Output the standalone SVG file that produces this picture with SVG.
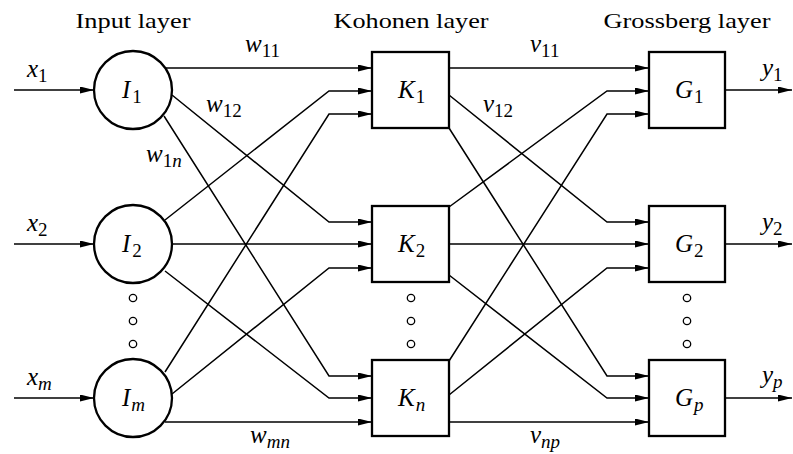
<svg xmlns="http://www.w3.org/2000/svg" width="793" height="454" viewBox="0 0 793 454">
<style>
.t{font-family:"Liberation Serif","Times New Roman",serif;font-size:22px}
.l{font-family:"Liberation Serif","Times New Roman",serif;font-size:25px;font-style:italic}
.s{font-size:19px;font-style:normal}
.si{font-size:19px;font-style:italic}
.node{fill:#fff;stroke:#000;stroke-width:2.3}
.c{fill:none;stroke:#000;stroke-width:1.5;marker-end:url(#a)}
.dot{fill:#fff;stroke:#000;stroke-width:1.3}
</style>
<defs>
<marker id="a" markerWidth="14" markerHeight="7" refX="14" refY="3.5" orient="auto" markerUnits="userSpaceOnUse"><path d="M0,0 L14,3.5 L0,7 z" fill="#000"/></marker>
</defs>
<rect width="793" height="454" fill="#fff"/>
<g id="titles">
<text class="t" x="133" y="28" text-anchor="middle" textLength="115" lengthAdjust="spacingAndGlyphs">Input layer</text>
<text class="t" x="411" y="28" text-anchor="middle" textLength="155" lengthAdjust="spacingAndGlyphs">Kohonen layer</text>
<text class="t" x="687" y="28" text-anchor="middle" textLength="167" lengthAdjust="spacingAndGlyphs">Grossberg layer</text>
</g>
<g id="connectors">
<path class="c" d="M14,90 H94"/>
<path class="c" d="M14,244 H94"/>
<path class="c" d="M14,398 H94"/>
<path class="c" d="M165,68 H372"/>
<path class="c" d="M172,95 L329,222 H372"/>
<path class="c" d="M164,116 L329,376 H372"/>
<path class="c" d="M165,220 L329,91 H372"/>
<path class="c" d="M172,244 H372"/>
<path class="c" d="M165,271 L329,398 H372"/>
<path class="c" d="M165,372 L329,114 H372"/>
<path class="c" d="M172,394 L329,268 H372"/>
<path class="c" d="M165,422 H372"/>
<path class="c" d="M449,68 H649"/>
<path class="c" d="M449,95 L607,222 H649"/>
<path class="c" d="M449,128 L607,376 H649"/>
<path class="c" d="M449,207 L607,91 H649"/>
<path class="c" d="M449,244 H649"/>
<path class="c" d="M449,275 L607,398 H649"/>
<path class="c" d="M449,361 L607,114 H649"/>
<path class="c" d="M449,395 L607,268 H649"/>
<path class="c" d="M449,422 H649"/>
<path class="c" d="M725,90 H792"/>
<path class="c" d="M725,244 H792"/>
<path class="c" d="M725,398 H792"/>
</g>
<g id="I1"><circle class="node" cx="133" cy="90" r="39"/><text class="l" x="122" y="97.5">I<tspan class="s" dx="2" dy="5.5">1</tspan></text></g>
<g id="I2"><circle class="node" cx="133" cy="244" r="39"/><text class="l" x="122" y="251.5">I<tspan class="s" dx="2" dy="5.5">2</tspan></text></g>
<g id="Im"><circle class="node" cx="133" cy="398" r="39"/><text class="l" x="122" y="405.5">I<tspan class="si" dx="1" dy="5.5">m</tspan></text></g>
<g id="K1"><rect class="node" x="372" y="52" width="77" height="76"/><text class="l" x="398" y="97.5">K<tspan class="s" dx="1" dy="5.5">1</tspan></text></g>
<g id="K2"><rect class="node" x="372" y="206" width="77" height="76"/><text class="l" x="398" y="251.5">K<tspan class="s" dx="1" dy="5.5">2</tspan></text></g>
<g id="Kn"><rect class="node" x="372" y="360" width="77" height="76"/><text class="l" x="398" y="405.5">K<tspan class="si" dx="1" dy="5.5">n</tspan></text></g>
<g id="G1"><rect class="node" x="649" y="52" width="76" height="76"/><text class="l" x="675" y="97.5">G<tspan class="s" dx="1" dy="5.5">1</tspan></text></g>
<g id="G2"><rect class="node" x="649" y="206" width="76" height="76"/><text class="l" x="675" y="251.5">G<tspan class="s" dx="1" dy="5.5">2</tspan></text></g>
<g id="Gp"><rect class="node" x="649" y="360" width="76" height="76"/><text class="l" x="675" y="405.5">G<tspan class="si" dx="1" dy="5.5">p</tspan></text></g>
<g id="dots">
<circle class="dot" cx="133" cy="298" r="3.7"/><circle class="dot" cx="133" cy="321" r="3.7"/><circle class="dot" cx="133" cy="344" r="3.7"/>
<circle class="dot" cx="411" cy="298" r="3.7"/><circle class="dot" cx="411" cy="321" r="3.7"/><circle class="dot" cx="411" cy="344" r="3.7"/>
<circle class="dot" cx="687" cy="298" r="3.7"/><circle class="dot" cx="687" cy="321" r="3.7"/><circle class="dot" cx="687" cy="344" r="3.7"/>
</g>
<g id="labels">
<text class="l" x="27" y="76.5">x<tspan class="s" dy="5">1</tspan></text>
<text class="l" x="27" y="230.5">x<tspan class="s" dy="5">2</tspan></text>
<text class="l" x="27" y="384.5">x<tspan class="si" dy="5">m</tspan></text>
<text class="l" x="762" y="76">y<tspan class="s" dy="5">1</tspan></text>
<text class="l" x="762" y="230">y<tspan class="s" dy="5">2</tspan></text>
<text class="l" x="762" y="383">y<tspan class="si" dy="5">p</tspan></text>
<text class="l" x="245" y="52">w<tspan class="s" dy="5">11</tspan></text>
<text class="l" x="206" y="112">w<tspan class="s" dy="5">12</tspan></text>
<text class="l" x="146" y="162">w<tspan class="s" dy="5">1</tspan><tspan class="si">n</tspan></text>
<text class="l" x="250" y="443">w<tspan class="si" dy="5">mn</tspan></text>
<text class="l" x="530" y="52">v<tspan class="s" dy="5">11</tspan></text>
<text class="l" x="483" y="112">v<tspan class="s" dy="5">12</tspan></text>
<text class="l" x="530" y="443">v<tspan class="si" dy="5">np</tspan></text>
</g>
</svg>
